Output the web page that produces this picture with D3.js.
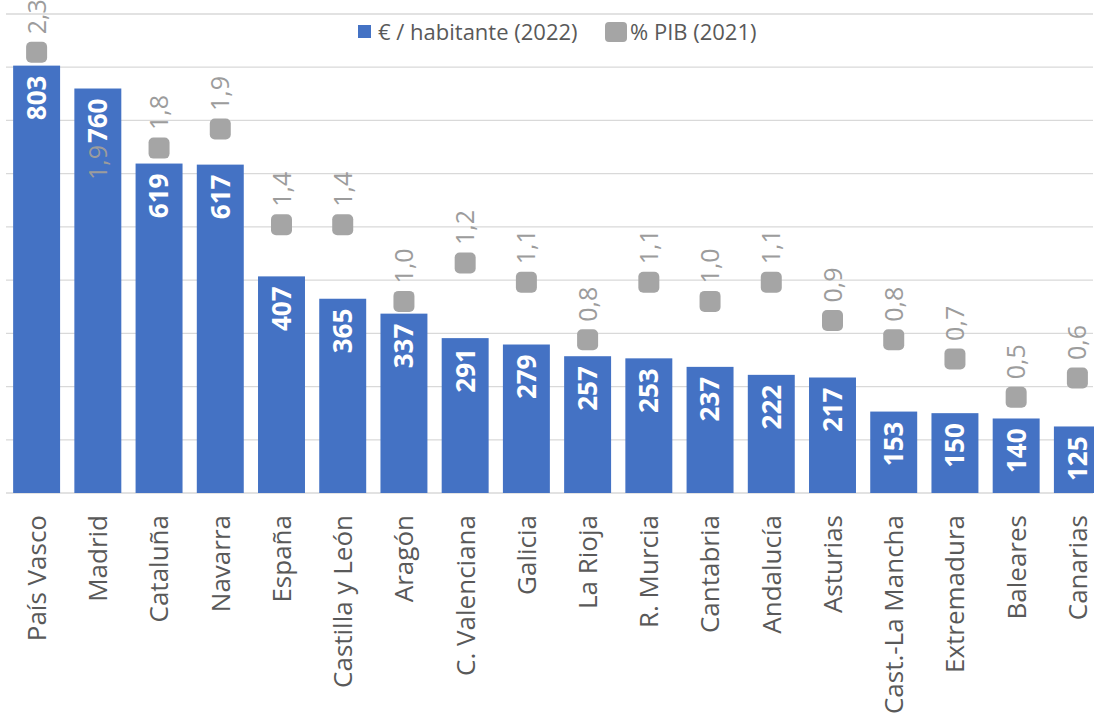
<!DOCTYPE html>
<html>
<head>
<meta charset="utf-8">
<script src="https://cdn.jsdelivr.net/npm/d3@7"></script>
<style>
  html, body { margin: 0; padding: 0; background: #ffffff; }
  svg { display: block; font-family: "Open Sans", "Noto Sans", sans-serif; }
</style>
</head>
<body>
<svg id="chart" width="1094" height="717"></svg>
<script>
// Regions, spending per inhabitant (2022) and share of GDP (2021)
const categories = ["País Vasco", "Madrid", "Cataluña", "Navarra", "España", "Castilla y León",
  "Aragón", "C. Valenciana", "Galicia", "La Rioja", "R. Murcia", "Cantabria", "Andalucía",
  "Asturias", "Cast.-La Mancha", "Extremadura", "Baleares", "Canarias"];
const eurosPerInhabitant = [803, 760, 619, 617, 407, 365, 337, 291, 279, 257, 253, 237, 222, 217, 153, 150, 140, 125];
const pctGDP = [2.3, 1.9, 1.8, 1.9, 1.4, 1.4, 1.0, 1.2, 1.1, 0.8, 1.1, 1.0, 1.1, 0.9, 0.8, 0.7, 0.5, 0.6];
const gridTicks = [0, 100, 200, 300, 400, 500, 600, 700, 800, 900];
const seriesNames = ["€ / habitante (2022)", "% PIB (2021)"];

const rows = categories.map((c, i) => ({ name: c, eur: eurosPerInhabitant[i], pct: pctGDP[i] }));

const svg = d3.select("#chart");
const W = 1094;
const BLUE = "#4472c4", GREY = "#a5a5a5", TEXT = "#595959";

const x = d3.scaleBand().domain(categories).range([6, 1108]).paddingInner(0.233).paddingOuter(0.1165);
const y = d3.scaleLinear().domain([0, 900]).range([493, 14]);
const y2 = d3.scaleLinear().domain([0, 2.5]).range([493, 14]);

// horizontal gridlines
svg.append("g").selectAll("line").data(gridTicks).join("line")
  .attr("x1", 6).attr("x2", W - 1)
  .attr("y1", d => y(d)).attr("y2", d => y(d))
  .attr("stroke", "#d9d9d9").attr("stroke-width", 1.3);

// % PIB markers (drawn beneath the bars)
const mk = 21;
svg.append("g").selectAll("rect").data(rows).join("rect")
  .attr("x", d => x(d.name) + x.bandwidth() / 2 - mk / 2)
  .attr("y", d => y2(d.pct) - mk / 2)
  .attr("width", mk).attr("height", mk).attr("rx", 5)
  .attr("fill", GREY);

// bars
svg.append("g").selectAll("rect").data(rows).join("rect")
  .attr("x", d => x(d.name)).attr("width", x.bandwidth())
  .attr("y", d => y(d.eur)).attr("height", d => y(0) - y(d.eur))
  .attr("fill", BLUE);

// bar value labels
svg.append("g").selectAll("text").data(rows).join("text")
  .attr("transform", d => `translate(${x(d.name) + x.bandwidth() / 2},${y(d.eur) + 10}) rotate(-90)`)
  .attr("text-anchor", "end").attr("dy", "0.36em")
  .attr("font-size", 26).attr("font-weight", 700).attr("fill", "#ffffff")
  .text(d => d3.format("d")(d.eur));

// % PIB value labels: above the marker, or below it when the marker sits inside its bar
const fmtPct = v => v.toFixed(1).replace(".", ",");
svg.append("g").selectAll("text").data(rows).join("text")
  .each(function (d) {
    const cx = x(d.name) + x.bandwidth() / 2;
    const cy = y2(d.pct);
    const inside = cy > y(d.eur) + mk;
    d3.select(this)
      .attr("transform", `translate(${cx},${inside ? cy + 16 : cy - 18}) rotate(-90)`)
      .attr("text-anchor", inside ? "end" : "start");
  })
  .attr("dy", "0.36em")
  .attr("font-size", 25).attr("fill", "#9c9c9c")
  .text(d => fmtPct(d.pct));

// category labels
svg.append("g").selectAll("text").data(categories).join("text")
  .attr("transform", d => `translate(${x(d) + x.bandwidth() / 2},515) rotate(-90)`)
  .attr("text-anchor", "end").attr("dy", "0.36em")
  .attr("font-size", 26).attr("fill", TEXT)
  .text(d => d);

// legend
const lg = svg.append("g");
lg.append("rect").attr("x", 358).attr("y", 25).attr("width", 13).attr("height", 13).attr("fill", BLUE);
lg.append("text").attr("x", 378).attr("y", 32).attr("dy", "0.35em")
  .attr("font-size", 22).attr("fill", TEXT).text(seriesNames[0]);
lg.append("rect").attr("x", 605).attr("y", 22).attr("width", 22).attr("height", 20).attr("rx", 4).attr("fill", GREY);
lg.append("text").attr("x", 630).attr("y", 32).attr("dy", "0.35em")
  .attr("font-size", 22).attr("fill", TEXT).text(seriesNames[1]);
</script>
</body>
</html>
